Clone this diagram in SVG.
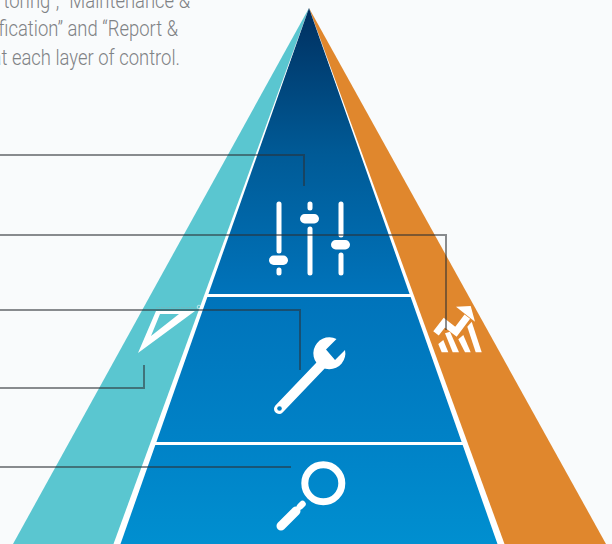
<svg xmlns="http://www.w3.org/2000/svg" width="612" height="544" viewBox="0 0 612 544">
<style>
.cap{font-family:Roboto,"Liberation Sans",sans-serif;font-weight:300;font-size:22.500px;fill:#7f8285;text-anchor:end}
.conn{fill:none;stroke:#2b2f33;stroke-opacity:.55;stroke-width:2}
.w{fill:#fff}
.ws{fill:none;stroke:#fff;stroke-linecap:round}
</style>
<defs>
<linearGradient id="blue" gradientUnits="userSpaceOnUse" x1="0" y1="8" x2="0" y2="544">
<stop offset="0" stop-color="#002f5f"/>
<stop offset=".27" stop-color="#005a96"/>
<stop offset=".53" stop-color="#0073ba"/>
<stop offset=".81" stop-color="#0082c7"/>
<stop offset="1" stop-color="#008fd0"/>
</linearGradient>
</defs>
<rect id="background" width="612" height="544" fill="#f9fbfc"/>
<g id="caption">
<text class="cap" transform="translate(190 8) scale(.82 1)">toring”, “Maintenance &amp;</text>
<text class="cap" transform="translate(178 36) scale(.82 1)">fication” and “Report &amp;</text>
<text class="cap" transform="translate(180 65) scale(.82 1)">at each layer of control.</text>
</g>
<g id="pyramid">
<polygon points="309,8 13,544 117,544" fill="#5ac6d0"/>
<polygon points="309,8 606,544 501,544" fill="#e0872d"/>
<polygon points="309,8 117,544 501,544" fill="url(#blue)"/>
<polygon class="w" points="309,8 113.500,544 120.500,544"/>
<polygon class="w" points="309,8 497.500,544 504.500,544"/>
<rect class="w" x="207" y="294" width="206" height="3"/>
<rect class="w" x="154" y="442" width="311" height="3"/>
</g>
<g id="node-sliders">
<path class="ws" stroke-width="5" d="M279 204V251M279 270V273M310 204V208M310 229V273M341 204V235M341 255V273"/>
<g class="w">
<rect x="269" y="255.500" width="19" height="9.500" rx="4.700"/>
<rect x="300" y="214" width="19" height="9.500" rx="4.700"/>
<rect x="331" y="240" width="19" height="9.500" rx="4.700"/>
</g>
</g>
<g id="node-wrench">
<path class="w" d="M336.500 339L326 349.500L335 360L345 350A16 16 0 1 1 336.500 339Z"/>
<path class="ws" stroke-width="10" d="M322 364L279 409"/>
<circle cx="279.500" cy="408.500" r="2.300" fill="url(#blue)"/>
</g>
<g id="node-magnifier">
<circle cx="323.300" cy="483.300" r="18.500" fill="none" stroke="#fff" stroke-width="7"/>
<path class="ws" stroke-width="9" d="M281 526L296 511"/>
<path class="ws" stroke-width="6.500" d="M300 506.500L302.500 504"/>
</g>
<g id="node-triangle">
<path class="w" fill-rule="evenodd" d="M138 353L156 311L195 311ZM151 336L179 314L160 314Z"/>
<path d="M156 307.500H196" stroke="#9aa4a8" stroke-opacity=".45" stroke-dasharray="1.500 1" fill="none"/>
<circle cx="199" cy="307" r="1.800" fill="none" stroke="#fff" stroke-opacity=".7" stroke-width=".8"/>
</g>
<g id="node-chart">
<path d="M436 333.300L444.300 322.700L456 331.700L467.300 316.700" fill="none" stroke="#fff" stroke-width="7"/>
<g class="w">
<polygon points="456,306.700 470.700,306 475,321.700"/>
<polygon points="438.300,344 443.300,340 448.300,352.300 441.700,352.300"/>
<polygon points="445,333.300 450,331.700 459,352.300 452.700,352.300"/>
<polygon points="458.300,339.300 463.300,335 470.700,352.300 465,352.300"/>
<polygon points="467.300,326.700 471.700,321.700 481.700,352.300 475.700,352.300"/>
</g>
</g>
<g id="connectors">
<path class="conn" d="M0 155H304V186"/>
<path class="conn" d="M0 235H446V330"/>
<path class="conn" d="M0 310H300V370"/>
<path class="conn" d="M0 388H144V365"/>
<path class="conn" d="M0 467H291"/>
</g>
</svg>
